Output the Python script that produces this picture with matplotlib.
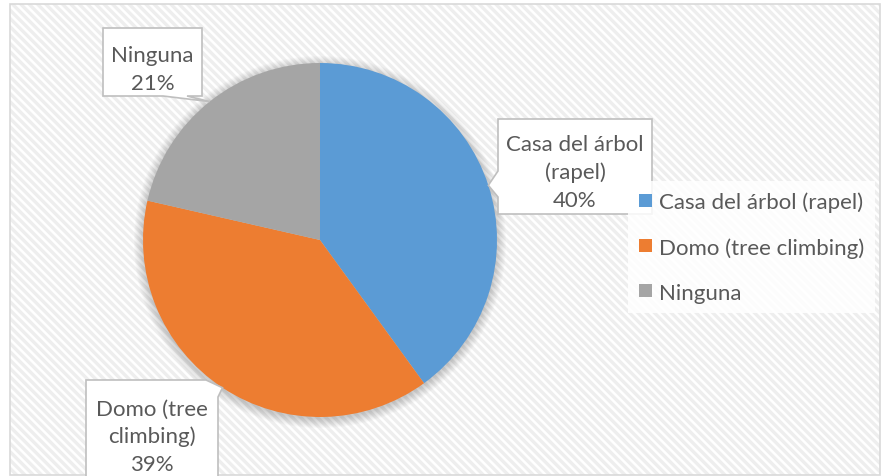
import numpy as np
import matplotlib
matplotlib.use("Agg")
import matplotlib.pyplot as plt
from matplotlib.patches import Rectangle, Polygon, Circle

# data (counts give 40% / 39% / 21%)
categories = ["Casa del árbol (rapel)", "Domo (tree climbing)", "Ninguna"]
callout_names = ["Casa del árbol\n(rapel)", "Domo (tree\nclimbing)", "Ninguna"]
counts = [28, 27, 15]
colors = ["#5B9BD5", "#ED7D31", "#A5A5A5"]

W, H = 882, 477
TEXT = "#595959"
FONT = "Lato"
FS = 16

plt.rcParams["font.family"] = [FONT, "DejaVu Sans"]
plt.rcParams["hatch.linewidth"] = 2.4
plt.rcParams["hatch.color"] = "#eeeeee"


def Y(y):
    # pixel row (from top) -> data y
    return H - y


fig = plt.figure(figsize=(W / 100, H / 100), dpi=100)
fig.patch.set_facecolor("white")
ax = fig.add_axes([0, 0, 1, 1])

# chart area: patterned fill + thin border
ax.add_patch(Rectangle((10, Y(476)), 870, 471, facecolor="white",
                       edgecolor="#eeeeee", hatch="\\\\\\\\", linewidth=0, zorder=0))
ax.add_patch(Rectangle((10, Y(476)), 870, 471, facecolor="none",
                       edgecolor="#d9d9d9", linewidth=1.2, zorder=1))

cx, cy, r = 320, Y(241), 177

# soft shadow under the pie
for k in range(10):
    ax.add_patch(Circle((cx, cy - 2), r + 9 - k, facecolor="#000000",
                        alpha=0.02, linewidth=0, zorder=2))

wedges, _ = ax.pie(counts, colors=colors, startangle=90, counterclock=False,
                   center=(cx, cy), radius=r, wedgeprops=dict(linewidth=0))
for w in wedges:
    w.set_zorder(3)


def tip_of(w):
    a = np.deg2rad((w.theta1 + w.theta2) / 2)
    return (cx + r * np.cos(a), cy + r * np.sin(a))


def callout(box, tail, tip, text, tcy):
    x0, y0, x1, y1 = box
    corners = [(x0, y0), (x1, y0), (x1, y1), (x0, y1)]
    side, a, b = tail
    if side == "bottom":
        pts = corners[:3] + [(b, y1), None, (a, y1)] + corners[3:]
    elif side == "left":
        pts = corners + [(x0, b), None, (x0, a)]
    else:  # top-right corner
        pts = [corners[0], (a, y0), None, (x1, b)] + corners[2:]
    pts = [tip if p is None else (p[0], Y(p[1])) for p in pts]
    ax.add_patch(Polygon(pts, closed=True, facecolor="white",
                         edgecolor="#bfbfbf", linewidth=1.2, zorder=5))
    ax.text((x0 + x1) / 2, Y(tcy), text, ha="center", va="center",
            fontsize=FS, color=TEXT, linespacing=1.45, zorder=6)


pct = [c / sum(counts) * 100 for c in counts]
labels = [f"{n}\n{p:.0f}%" for n, p in zip(callout_names, pct)]

callout((498, 120, 652, 215), ("left", 172, 198), tip_of(wedges[0]), labels[0], 173)
callout((86, 381, 218, 495), ("corner", 206, 398), tip_of(wedges[1]), labels[1], 437)
callout((103, 29, 202, 97), ("bottom", 163, 187), tip_of(wedges[2]), labels[2], 70)

leg = ax.legend(wedges, categories, loc="upper left",
                bbox_to_anchor=(628 / W, 1 - 182 / H), fontsize=FS,
                frameon=True, fancybox=False, framealpha=0.85,
                edgecolor="none", facecolor="white",
                handlelength=0.6, handleheight=0.54, handletextpad=0.3,
                labelspacing=1.12, borderpad=0.48, borderaxespad=0)
for t in leg.get_texts():
    t.set_color(TEXT)
leg.set_zorder(7)

ax.set_xlim(0, W)
ax.set_ylim(0, H)
ax.set_aspect("equal")
ax.axis("off")

fig.savefig("out.png", dpi=100, facecolor="white")
